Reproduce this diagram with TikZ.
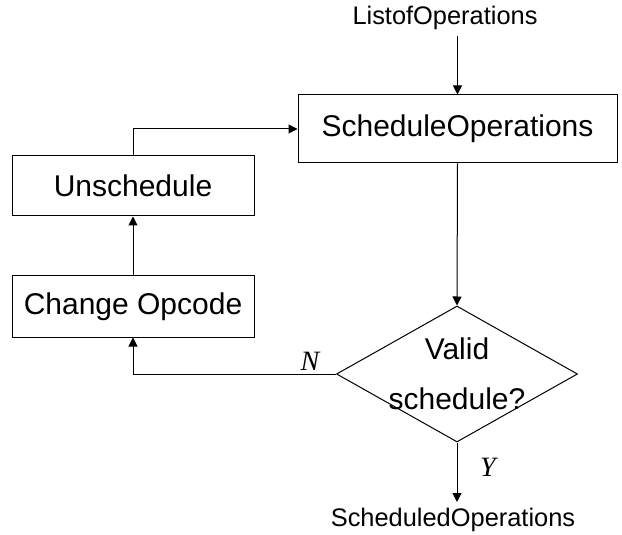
\documentclass[tikz,border=0pt]{standalone}
\usepackage{fontspec}
\setmainfont{Liberation Sans}
\newfontfamily\serifit{Liberation Serif}
\usetikzlibrary{shapes.geometric,arrows.meta}
\begin{document}
\begin{tikzpicture}[x=0.5pt,y=-0.5pt,
  box/.style={draw=black, line width=0.5pt, inner sep=0pt, font=\fontsize{15}{18}\selectfont},
  decision/.style={draw=black, line width=0.5pt, shape=diamond, inner sep=0pt, minimum width=120.5pt, minimum height=68pt},
  arr/.style={draw=black, line width=0.5pt, -{Triangle[length=4.5pt,width=4.5pt]}},
  io/.style={inner sep=0pt, font=\fontsize{12.7}{15}\selectfont},
  lbl/.style={inner sep=0pt, font=\serifit\itshape\fontsize{14}{16}\selectfont}]
\useasboundingbox (0,0) rectangle (622,535);
\node[io] (list) at (445,18) {ListofOperations};
\node[box, minimum width=159.5pt, minimum height=34pt] (sched) at (457.5,129) {ScheduleOperations};
\node[box, minimum width=121pt, minimum height=30pt] (unsch) at (133,186) {Unschedule};
\node[box, minimum width=121pt, minimum height=30.5pt] (change) at (133,306.5) {Change Opcode};
\node[decision] (dec) at (457,374) {};
\node[align=center, inner sep=0pt, font=\fontsize{15}{25}\selectfont] (dectext) at (dec.center) {Valid\\schedule?};
\coordinate (listout) at (457.5,36);
\coordinate (out) at (457,502);
\node[io] (result) at (453,520) {ScheduledOperations};
\draw[arr] (listout) -- (sched.north);
\draw[arr] (sched.south) -- (dec.north);
\draw[arr] (dec.west) -| (change.south);
\node[lbl, anchor=base] (nlbl) at ([xshift=-13pt,yshift=1.5pt]dec.west) {N};
\draw[arr] (change.north) -- (unsch.south);
\draw[arr] (unsch.north) |- (sched.west);
\draw[arr] (dec.south) -- (out);
\node[lbl] (ylbl) at (488,467) {Y};
\end{tikzpicture}
\end{document}
